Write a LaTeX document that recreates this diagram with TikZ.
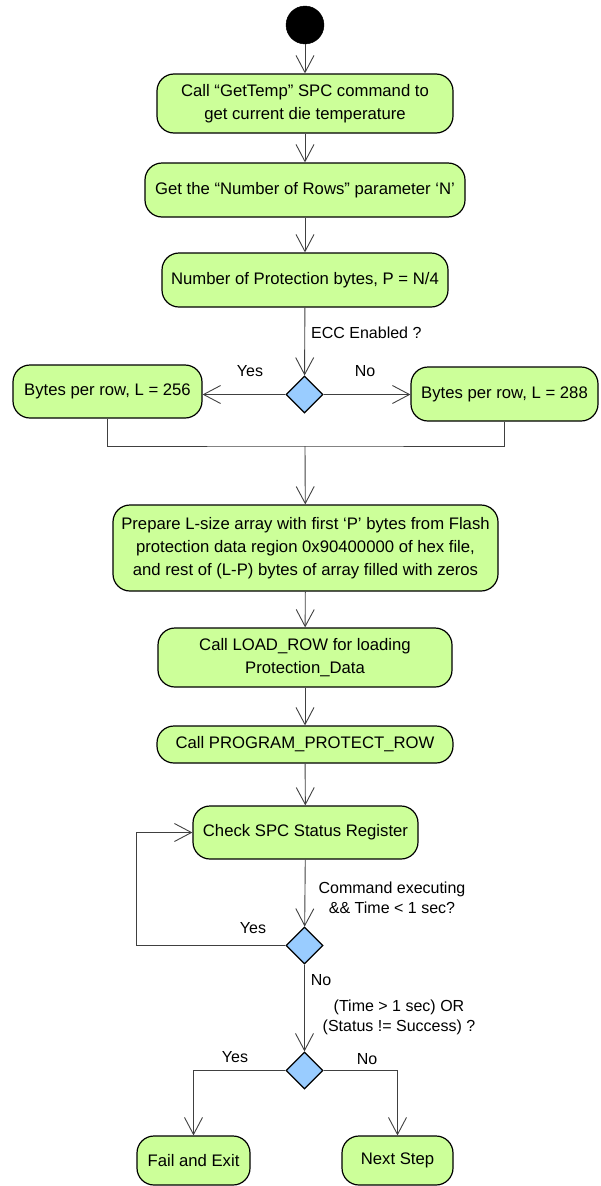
\documentclass[tikz,border=0pt]{standalone}
\usepackage{fontspec}
\setmainfont{Liberation Sans}
\usetikzlibrary{arrows.meta,shapes.geometric}
\definecolor{boxgreen}{HTML}{CCFF99}
\definecolor{diablue}{HTML}{99CCFF}
\definecolor{linegray}{HTML}{404040}
\begin{document}
\begin{tikzpicture}[x=1pt,y=-1pt,
 stepbox/.style={draw=black, line width=1.2pt, fill=boxgreen, rounded corners=17pt, align=center, font=\fontsize{16.7}{23}\selectfont, inner sep=2pt},
 decision/.style={diamond, draw=black, line width=1.2pt, fill=diablue, minimum width=37pt, minimum height=37pt, inner sep=0pt},
 flow/.style={draw=linegray, line width=0.9pt},
 arr/.style={flow, -{Straight Barb[length=17pt,width=18pt,line width=0.9pt]}},
 lbl/.style={font=\fontsize{16}{20}\selectfont, inner sep=0pt, align=center}]
\useasboundingbox (0,0) rectangle (601,1186);

\node[circle, fill=black, draw=black, minimum size=38pt, inner sep=0pt] (start) at (305,25) {};
\node[stepbox, minimum width=296pt, minimum height=59pt] (b1) at (305,103.5) {Call “GetTemp” SPC command to\\get current die temperature};
\node[stepbox, minimum width=320pt, minimum height=54pt] (b2) at (305,190) {Get the “Number of Rows” parameter ‘N’};
\node[stepbox, minimum width=286pt, minimum height=54pt] (b3) at (305,280) {Number of Protection bytes, P = N/4};
\node[decision] (d1) at (304.5,394.5) {};
\node[stepbox, minimum width=189pt, minimum height=53pt] (lb) at (107.5,391.5) {Bytes per row, L = 256};
\node[stepbox, minimum width=187pt, minimum height=54pt] (rb) at (504.5,394) {Bytes per row, L = 288};
\coordinate (j) at (305,446);
\node[stepbox, minimum width=385pt, minimum height=86pt] (prep) at (305.5,548) {Prepare L-size array with first ‘P’ bytes from Flash\\protection data region 0x90400000 of hex file,\\and rest of (L-P) bytes of array filled with zeros};
\node[stepbox, minimum width=294pt, minimum height=59pt] (load) at (305,657.5) {Call LOAD\_ROW for loading\\Protection\_Data};
\node[stepbox, minimum width=296pt, minimum height=37pt] (prog) at (305,744.5) {Call PROGRAM\_PROTECT\_ROW};
\node[stepbox, minimum width=225pt, minimum height=53pt] (check) at (305.5,832.5) {Check SPC Status Register};
\node[decision] (d2) at (304.5,945.5) {};
\coordinate (lp) at (136,945.5);
\node[decision] (d3) at (304.5,1070.5) {};
\node[stepbox, minimum width=113pt, minimum height=49pt] (fail) at (193.5,1160.5) {Fail and Exit};
\node[stepbox, minimum width=111pt, minimum height=49pt] (next) at (397.5,1160.5) {Next Step};

\draw[arr] (start) -- (b1);
\draw[arr] (b1) -- (b2);
\draw[arr] (b2) -- (b3);
\draw[arr] (b3) -- (d1);
\draw[arr] (d1.west) -- (d1.west -| lb.east);
\draw[arr] (d1.east) -- (d1.east -| rb.west);
\draw[flow] (lb.south) |- (j) -| (rb.south);
\draw[arr] (j) -- (prep);
\draw[arr] (prep) -- (load);
\draw[arr] (load) -- (prog);
\draw[arr] (prog) -- (check);
\draw[arr] (check) -- (d2);
\draw[arr] (d2.west) -- (lp) |- (check.west);
\draw[arr] (d2) -- (d3);
\draw[arr] (d3.west) -| (fail.north);
\draw[arr] (d3.east) -| (next.north);

\node[lbl, anchor=west] (l1) at (311,333) {ECC Enabled ?};
\node[lbl] (l2) at (250,371) {Yes};
\node[lbl] (l3) at (365,371) {No};
\node[lbl] (l4) at (392,898) {Command executing\\\&\& Time < 1 sec?};
\node[lbl] (l5) at (253,928) {Yes};
\node[lbl] (l6) at (321,980) {No};
\node[lbl] (l7) at (399,1017) {(Time > 1 sec) OR\\(Status != Success) ?};
\node[lbl] (l8) at (235,1057) {Yes};
\node[lbl] (l9) at (367,1059) {No};
\end{tikzpicture}
\end{document}
